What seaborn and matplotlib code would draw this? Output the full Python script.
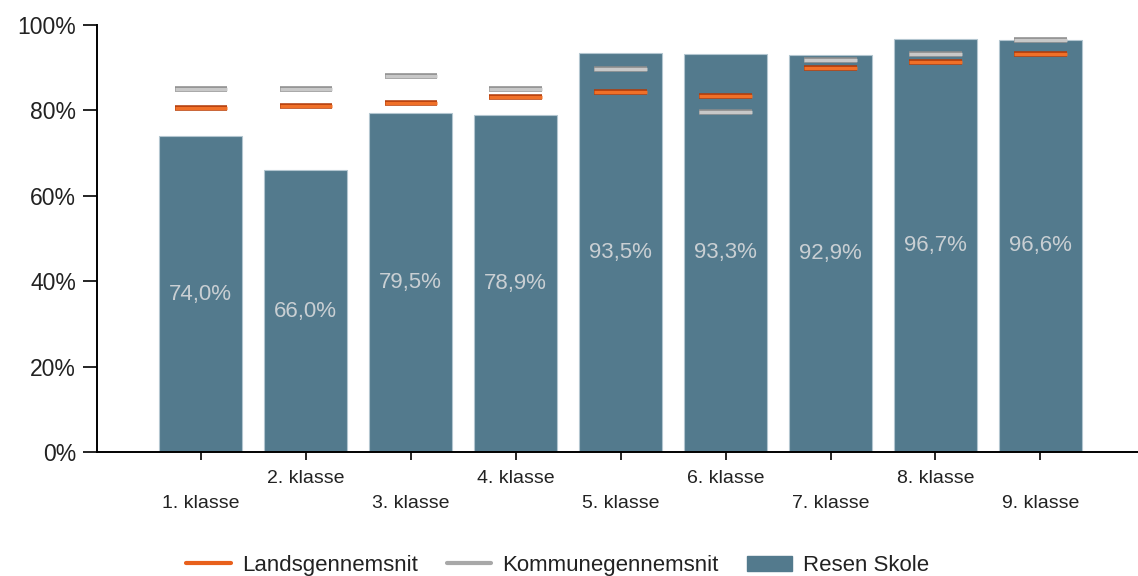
import pandas as pd
import seaborn as sns
import matplotlib.pyplot as plt
import matplotlib.patheffects as pe
from matplotlib.lines import Line2D
from matplotlib.patches import Patch
import numpy as np

# data
klasser = ['1. klasse', '2. klasse', '3. klasse', '4. klasse', '5. klasse',
           '6. klasse', '7. klasse', '8. klasse', '9. klasse']
resen = [74.0, 66.0, 79.5, 78.9, 93.5, 93.3, 92.9, 96.7, 96.6]
lands = [80.6, 81.0, 81.8, 83.2, 84.2, 83.3, 90.0, 91.4, 93.3]
kommune = [85.0, 85.0, 88.1, 85.0, 89.6, 79.6, 91.9, 93.3, 96.4]

bar_col = '#537a8d'
orange = '#e8601c'
grey = '#a8a8a8'

df = pd.DataFrame({'klasse': klasser, 'resen': resen,
                   'lands': lands, 'kommune': kommune})

sns.set_style('white')
plt.rcParams['font.family'] = ['Liberation Sans', 'DejaVu Sans']

fig = plt.figure(figsize=(11.38, 5.76), dpi=100)
ax = fig.add_axes([0.0852, 0.2153, 0.9148, 0.7413])

sns.barplot(data=df, x='klasse', y='resen', color=bar_col, width=0.79,
            edgecolor='#b3c6d0', linewidth=0.8, saturation=1, ax=ax)

# bar value labels in the middle of each bar
for i, v in enumerate(df['resen']):
    ax.text(i, v / 2, f'{v:.1f}%'.replace('.', ','), ha='center', va='center',
            color='#c9cfd3', fontsize=16)

# average markers
x = np.arange(len(df))
ax.hlines(df['kommune'], x - 0.25, x + 0.25, color='#c8c8c8', linewidth=2.4,
          path_effects=[pe.Stroke(linewidth=4.0, foreground='#8c8c8c'), pe.Normal()],
          zorder=4)
ax.hlines(df['lands'], x - 0.25, x + 0.25, color='#f07028', linewidth=2.4,
          path_effects=[pe.Stroke(linewidth=4.0, foreground='#b23c0a'), pe.Normal()],
          zorder=5)

ax.set_xlim(-0.99, 8.93)
ax.set_ylim(0, 100)
ax.set_yticks(range(0, 101, 20))
ax.set_yticklabels([f'{t}%' for t in range(0, 101, 20)], fontsize=16.5, color='#222222')

# staggered x labels
labs = [('\n' + k) if i % 2 == 0 else k for i, k in enumerate(klasser)]
ax.set_xticks(x)
ax.set_xticklabels(labs, fontsize=14, color='#222222', linespacing=1.65)
ax.set_xlabel('')
ax.set_ylabel('')

for s in ['top', 'right']:
    ax.spines[s].set_visible(False)
for s in ['left', 'bottom']:
    ax.spines[s].set_color('black')
    ax.spines[s].set_linewidth(1.4)
ax.tick_params(axis='y', length=10, width=1.2, color='black', pad=5, left=True)
ax.tick_params(axis='x', length=6, width=1.2, color='black', pad=7, bottom=True)

handles = [
    Line2D([0], [0], color=orange, linewidth=3),
    Line2D([0], [0], color=grey, linewidth=3),
    Patch(facecolor=bar_col, edgecolor=bar_col),
]
fig.legend(handles, ['Landsgennemsnit', 'Kommunegennemsnit', 'Resen Skole'],
           loc='lower center', ncol=3, frameon=False, fontsize=16,
           bbox_to_anchor=(0.49, -0.035), handlelength=2.0, handletextpad=0.5,
           columnspacing=1.3, labelcolor='#222222')

fig.savefig('out.png', dpi=100)
